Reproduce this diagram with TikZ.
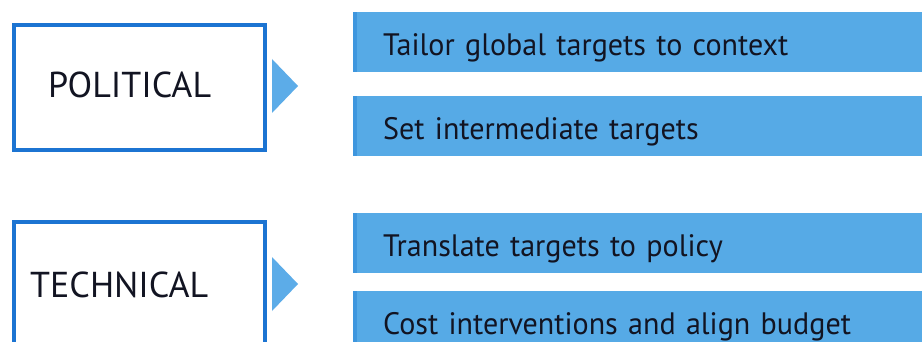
\documentclass[tikz,border=0pt]{standalone}
\usepackage{fontspec}
\setmainfont{PT Sans}
\newfontfamily\barfont[FakeStretch=0.97]{PT Sans}
\definecolor{barblue}{RGB}{86,170,230}
\definecolor{barshade}{RGB}{62,150,222}
\definecolor{edgeblue}{RGB}{28,116,210}
\definecolor{tipblue}{RGB}{92,172,232}
\definecolor{inktext}{RGB}{18,20,34}
\tikzset{
  stagebox/.style={draw=edgeblue, line width=3.6pt, fill=white, minimum width=251pt,
    minimum height=125pt, anchor=north west, inner sep=0pt},
  stagetext/.style={text=inktext, font=\fontsize{36}{40}\selectfont, anchor=base west, inner sep=0pt},
  pointer/.style={fill=tipblue, draw=none},
  taskbar/.style={fill=barblue, draw=none, minimum height=60pt, anchor=north west,
    text width=520pt, inner xsep=30pt, inner ysep=0pt, align=left,
    text height=27pt, text depth=0pt,
    font=\barfont\fontsize{31}{34}\selectfont, text=inktext},
  barshadow/.style={fill=barshade, draw=none},
}
\begin{document}
\begin{tikzpicture}[x=1pt,y=-1pt]
\useasboundingbox[fill=white] (0,0) rectangle (922,342);
% stage labels
\node[stagebox] (pol) at (12,23) {};
\node[stagetext] (poltxt) at (48,98) {POLITICAL};
\node[stagebox] (tec) at (12,220) {};
\node[stagetext] (tectxt) at (30,297) {TECHNICAL};
% pointers
\coordinate (p1a) at (272,59);
\coordinate (p1b) at (272,113);
\coordinate (p1c) at (298,86);
\fill[pointer] (p1a) -- (p1c) -- (p1b) -- cycle;
\coordinate (p2a) at (272,257);
\coordinate (p2b) at (272,311);
\coordinate (p2c) at (298,284);
\fill[pointer] (p2a) -- (p2c) -- (p2b) -- cycle;
% task bars
\node[taskbar] (b1) at (353,12) {Tailor global targets to context};
\node[taskbar] (b2) at (353,96) {Set intermediate targets};
\node[taskbar] (b3) at (353,213) {Translate targets to policy};
\node[taskbar] (b4) at (353,291) {Cost interventions and align budget};
% darker left edge of each bar
\foreach \b in {b1,b2,b3,b4}
  \fill[barshadow] (\b.north west) rectangle ([xshift=4pt]\b.south west);
\end{tikzpicture}
\end{document}
